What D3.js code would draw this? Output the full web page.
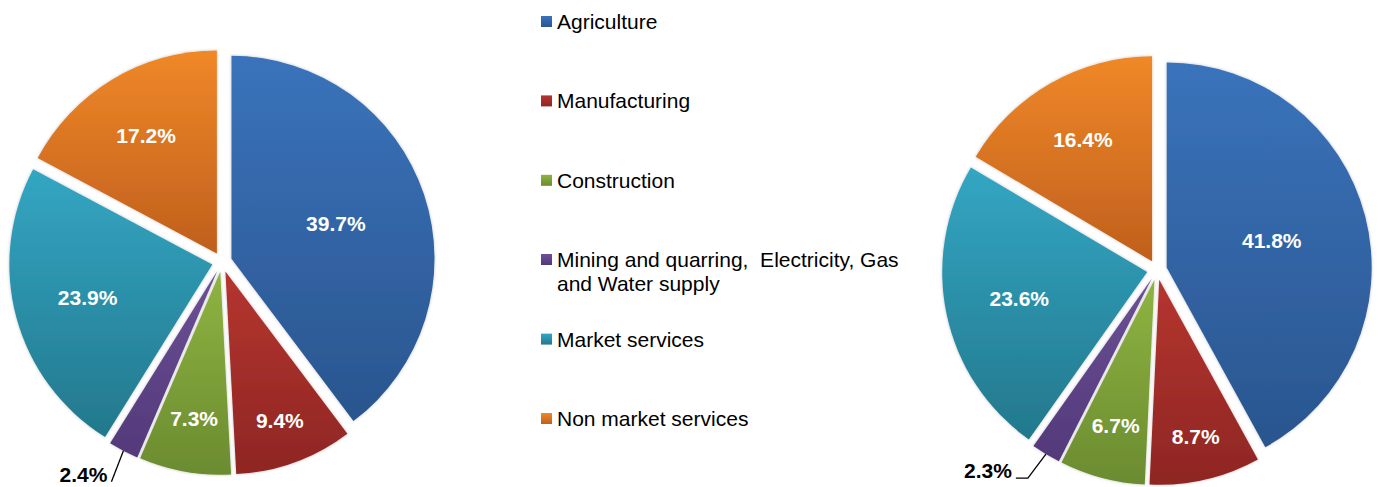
<!DOCTYPE html>
<html lang="en">
<head>
<meta charset="utf-8">
<title>Employment by sector</title>
<script src="https://d3js.org/d3.v7.min.js"></script>
<style>
  body { margin: 0; background: #fff; }
  text { font-family: Arial, "Liberation Sans", sans-serif; }
</style>
</head>
<body>
<script>
// data
var categories = ["Agriculture", "Manufacturing", "Construction",
  "Mining and quarring,  Electricity, Gas|and Water supply",
  "Market services", "Non market services"];
var shareLeft = [39.7, 9.4, 7.3, 2.4, 23.9, 17.2];
var shareRight = [41.8, 8.7, 6.7, 2.3, 23.6, 16.4];

// top / bottom colours of each slice gradient
var colTop = ["#3a73bb", "#b5352f", "#8fb441", "#6c5096", "#33a6c3", "#f08828"];
var colBot = ["#2a558e", "#8e2623", "#6b8b30", "#52397a", "#23788c", "#bf5f1d"];

var w = 1378, h = 487;
var explode = 10;

var svg = d3.select("body").append("svg")
  .attr("width", w)
  .attr("height", h);

var defs = svg.append("defs");
colTop.forEach(function(c, i) {
  var g = defs.append("linearGradient")
    .attr("id", "grad" + i)
    .attr("x1", 0).attr("y1", 0).attr("x2", 0).attr("y2", 1);
  g.append("stop").attr("offset", "0%").attr("stop-color", c);
  g.append("stop").attr("offset", "100%").attr("stop-color", colBot[i]);
});
var shadow = defs.append("filter").attr("id", "shadow")
  .attr("x", "-10%").attr("y", "-10%").attr("width", "120%").attr("height", "120%");
shadow.append("feDropShadow")
  .attr("dx", 0).attr("dy", 0).attr("stdDeviation", 1.5)
  .attr("flood-color", "#000").attr("flood-opacity", 0.25);

var pie = d3.pie().sort(null).value(function(d) { return d; });

function drawPie(values, cx, cy, r, small) {
  var arcs = pie(values);
  var arc = d3.arc().innerRadius(0).outerRadius(r);
  var g = svg.append("g").attr("transform", "translate(" + cx + "," + cy + ")");

  function dir(d) {
    var a = (d.startAngle + d.endAngle) / 2;
    return [Math.sin(a), -Math.cos(a)];
  }
  // label distance: narrow slices get their label further out
  function lblR(d) {
    var f = 0.78 - 0.6 * d.data / 100;
    if (d.data > 8 && d.data < 10) f += 0.06;
    return r * f + explode;
  }

  g.selectAll("path.slice")
    .data(arcs)
    .enter()
    .append("path")
    .attr("class", "slice")
    .attr("d", arc)
    .attr("fill", function(d, i) { return "url(#grad" + i + ")"; })
    .attr("filter", "url(#shadow)")
    .attr("transform", function(d) {
      var v = dir(d);
      return "translate(" + v[0] * explode + "," + v[1] * explode + ")";
    });

  // inside labels
  g.selectAll("text.inlbl")
    .data(arcs.filter(function(d) { return d.data > 5; }))
    .enter()
    .append("text")
    .attr("class", "inlbl")
    .attr("x", function(d) { return dir(d)[0] * lblR(d); })
    .attr("y", function(d) { return dir(d)[1] * lblR(d) + 7; })
    .attr("text-anchor", "middle")
    .attr("fill", "#fff")
    .attr("font-weight", "bold")
    .attr("font-size", "21px")
    .text(function(d) { return d.data.toFixed(1) + "%"; });

  // outside label for tiny slice
  arcs.filter(function(d) { return d.data <= 5; }).forEach(function(d) {
    var v = dir(d);
    var p0 = [v[0] * (r + explode), v[1] * (r + explode)];
    var p1 = [p0[0] + small.dx, p0[1] + small.dy];
    var p2 = [p1[0] - small.tail, p1[1]];
    g.append("path")
      .attr("d", d3.line()([p0, p1, p2]))
      .attr("fill", "none")
      .attr("stroke", "#000")
      .attr("stroke-width", 1.3);
    g.append("text")
      .attr("x", p2[0] - 4)
      .attr("y", p2[1])
      .attr("text-anchor", "end")
      .attr("fill", "#000")
      .attr("font-weight", "bold")
      .attr("font-size", "21px")
      .text(d.data.toFixed(1) + "%");
  });
}

drawPie(shareLeft, 222, 262, 203, { dx: -12, dy: 31, tail: 0 });
drawPie(shareRight, 1157, 270, 205, { dx: -18, dy: 24, tail: 12 });

// legend
var legend = svg.append("g").attr("transform", "translate(541,0)");
var rowY = d3.scalePoint().domain(d3.range(categories.length)).range([22, 419]);

var item = legend.selectAll("g.item")
  .data(categories)
  .enter()
  .append("g")
  .attr("class", "item")
  .attr("transform", function(d, i) {
    var y = rowY(i);
    if (i == 3) y = 260;
    return "translate(0," + y + ")";
  });

item.append("rect")
  .attr("x", 0)
  .attr("y", -6)
  .attr("width", 11)
  .attr("height", 11)
  .attr("fill", function(d, i) { return "url(#grad" + i + ")"; });

item.append("text")
  .attr("x", 16)
  .attr("y", 7)
  .attr("font-size", "21px")
  .attr("fill", "#000")
  .selectAll("tspan")
  .data(function(d) { return d.split("|"); })
  .enter()
  .append("tspan")
  .attr("x", 16)
  .attr("dy", function(d, i) { return i == 0 ? 0 : 24; })
  .style("white-space", "pre")
  .text(function(d) { return d; });
</script>
</body>
</html>
